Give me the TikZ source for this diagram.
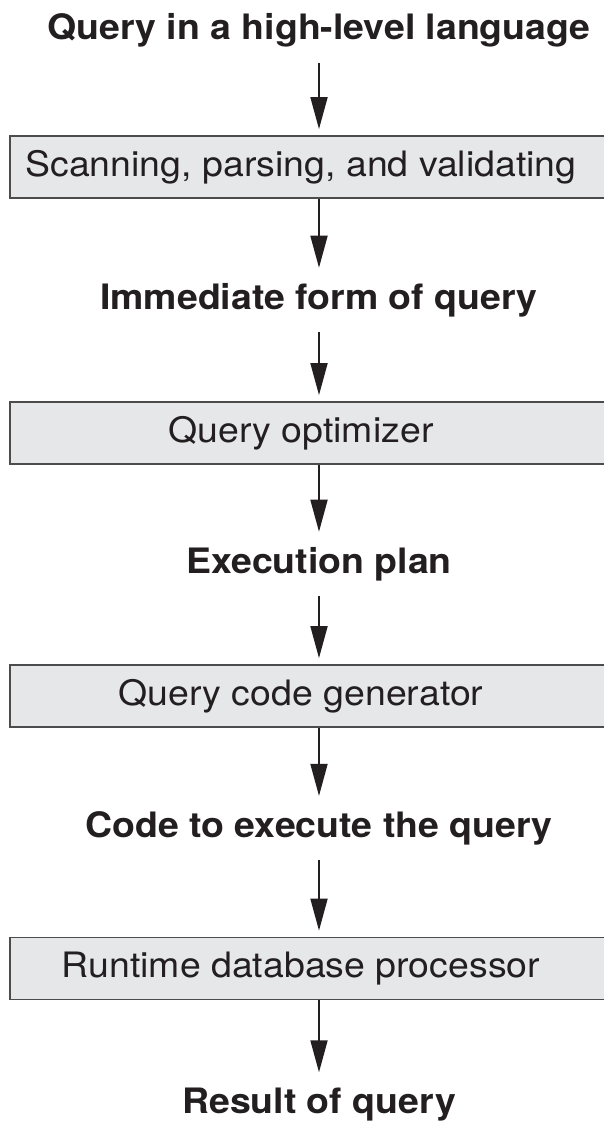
\documentclass[tikz,border=0pt]{standalone}
\usepackage{fontspec}
\setmainfont{TeX Gyre Heros}[FakeStretch=1.07]
\usetikzlibrary{arrows.meta}
\tikzset{>={Triangle[length=32pt,width=17pt]}}
\definecolor{boxgray}{RGB}{230,231,232}
\definecolor{ink}{RGB}{35,31,32}
\tikzset{
  stage/.style={draw=black!70, line width=1.8pt, fill=boxgray, minimum width=596pt,
    minimum height=62pt, inner sep=0pt, text=ink, font=\fontsize{35}{40}\selectfont,
    execute at end node={\hspace*{14pt}}},
  result/.style={anchor=base, inner xsep=0pt, inner ysep=15pt, text=ink,
    font=\fontsize{35}{40}\selectfont\bfseries},
  flow/.style={->, line width=1.8pt, draw=ink}
}

\begin{document}
\begin{tikzpicture}[x=1pt, y=-1pt]
    \useasboundingbox (0, 0) rectangle (603, 1121);
    % stages and what they hand on
    \node[result] (query) at (319, 40) {Query in a high-level language};
    \node[stage] (scan) at (308, 167) {Scanning, parsing, and validating};
    \node[result] (form) at (319, 309) {Immediate form of query};
    \node[stage] (optim) at (308, 433) {Query optimizer};
    \node[result] (plan) at (319, 573) {Execution plan};
    \node[stage] (codegen) at (308, 696) {Query code generator};
    \node[result] (code) at (319, 837) {Code to execute the query};
    \node[stage] (runtime) at (308, 968.5) {Runtime database processor};
    \node[result] (answer) at (319, 1113) {Result of query};
    % arrows
    \draw[flow, shorten >=6pt] (query) -- (query |- scan.north);
    \draw[flow] (scan.south -| form) -- (form);
    \draw[flow, shorten >=6pt] (form) -- (form |- optim.north);
    \draw[flow] (optim.south -| plan) -- (plan);
    \draw[flow, shorten >=6pt] (plan) -- (plan |- codegen.north);
    \draw[flow] (codegen.south -| code) -- (code);
    \draw[flow, shorten >=6pt] (code) -- (code |- runtime.north);
    \draw[flow] (runtime.south -| answer) -- (answer);
\end{tikzpicture}
\end{document}
